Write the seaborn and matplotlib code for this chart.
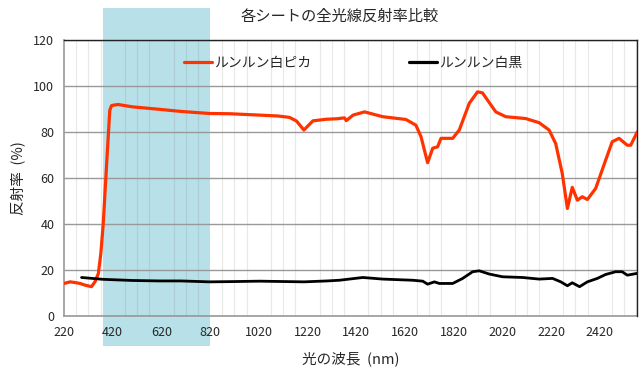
import matplotlib
matplotlib.use("Agg")
import matplotlib.pyplot as plt
import numpy as np
import pandas as pd
import seaborn as sns

# wavelength (nm) / reflectance (%)
pika_nm = [220, 245, 265, 286, 306, 333, 347, 361, 371, 381, 395, 408, 415, 422, 443,
           500, 613, 700, 818, 900, 1023, 1100, 1146, 1175, 1205, 1242, 1297, 1340,
           1372, 1379, 1407, 1454, 1529, 1624, 1665, 1686, 1713, 1734, 1754, 1768,
           1816, 1843, 1884, 1918, 1938, 1993, 2034, 2116, 2171, 2212, 2239, 2266,
           2287, 2307, 2328, 2348, 2369, 2403, 2444, 2471, 2499, 2533, 2547, 2574]
pika_val = [14.2, 14.9, 14.6, 14.2, 13.5, 12.8, 14.9, 18.5, 27.0, 40.0, 66.0, 89.5, 91.5, 91.7, 92.0,
            91.0, 89.9, 89.0, 88.1, 88.0, 87.4, 87.0, 86.4, 84.8, 80.9, 84.9, 85.6, 85.8,
            86.2, 85.0, 87.4, 88.8, 86.7, 85.5, 83.0, 78.0, 66.7, 73.0, 73.6, 77.3,
            77.3, 80.9, 92.5, 97.5, 97.1, 88.8, 86.7, 85.9, 84.1, 80.9, 75.0, 62.0,
            46.8, 56.0, 50.4, 51.9, 50.7, 55.5, 67.8, 75.8, 77.3, 74.3, 74.3, 80.1]

kuro_nm = [292, 380, 500, 613, 700, 818, 900, 1023, 1205, 1300, 1351, 1447, 1529, 1652,
           1693, 1713, 1741, 1761, 1816, 1857, 1898, 1925, 1966, 2021, 2103, 2171, 2226,
           2260, 2287, 2307, 2337, 2369, 2410, 2444, 2485, 2512, 2533, 2574]
kuro_val = [16.8, 16.0, 15.5, 15.3, 15.3, 14.9, 15.0, 15.2, 14.9, 15.3, 15.6, 16.8, 16.1, 15.6,
            15.2, 13.9, 14.9, 14.2, 14.2, 16.4, 19.3, 19.7, 18.3, 17.1, 16.8, 16.1, 16.4,
            14.9, 13.2, 14.5, 12.8, 14.9, 16.4, 18.1, 19.3, 19.3, 17.8, 18.6]

series_names = ["ルンルン白ピカ", "ルンルン白黒"]
series_colors = ["#FF3300", "#000000"]
visible_band = (380, 820)
xtick_vals = list(range(220, 2421, 200))

df = pd.concat([
    pd.DataFrame({"nm": pika_nm, "val": pika_val, "sheet": series_names[0]}),
    pd.DataFrame({"nm": kuro_nm, "val": kuro_val, "sheet": series_names[1]}),
])

sns.set_style("white")
plt.rcParams["font.family"] = ["Noto Sans CJK JP", "DejaVu Sans"]

fig = plt.figure(figsize=(6.4, 3.75), dpi=100)
ax = fig.add_axes([0.1, 0.157, 0.895, 0.736])

# visible light band, sticking out above and below the plot area
ax.axvspan(*visible_band, ymin=-0.11, ymax=1.116, color="#B7E0E8",
           clip_on=False, zorder=0.6, lw=0)

sns.lineplot(data=df, x="nm", y="val", hue="sheet", palette=series_colors,
             hue_order=series_names, ax=ax, linewidth=2.3, sort=False,
             estimator=None, zorder=3)
for ln, w in zip(ax.lines, [2.3, 2.0]):
    ln.set_linewidth(w)
    ln.set_solid_joinstyle("round")

ax.set_xlim(220, 2572)
ax.set_ylim(0, 120)
ax.set_xticks(xtick_vals)
ax.set_xticks(np.arange(220, 2572, 50), minor=True)
ax.set_yticks(range(0, 121, 20))
ax.set_axisbelow(False)  # grid and tick labels above the band, under the lines
ax.grid(axis="y", which="major", color="#999999", linewidth=1.0)
ax.grid(axis="x", which="minor", color="#808080", alpha=0.18, linewidth=0.8)
ax.tick_params(axis="both", which="major", labelsize=9, length=4,
               color="#999999", direction="out", pad=3)
ax.tick_params(axis="x", which="minor", length=0)
for side in ["left", "bottom"]:
    ax.spines[side].set_color("#999999")
    ax.spines[side].set_linewidth(1.2)
for side in ["top", "right"]:
    ax.spines[side].set_visible(True)
    ax.spines[side].set_color("#222222")
    ax.spines[side].set_linewidth(1.0)
    ax.spines[side].set_zorder(2.8)

ax.set_xlabel("光の波長  (nm)", fontsize=10.5, labelpad=9)
ax.set_ylabel("反射率  (%)", fontsize=10.5, labelpad=6)
fig.text(0.53, 0.958, "各シートの全光線反射率比較", ha="center", va="center", fontsize=11)

ax.legend(loc="center", bbox_to_anchor=(0.505, 0.917), ncol=2, frameon=False,
          fontsize=10, handlelength=2.0, handletextpad=0.2, columnspacing=7.0,
          title=None)

fig.savefig("out.png", dpi=100)
